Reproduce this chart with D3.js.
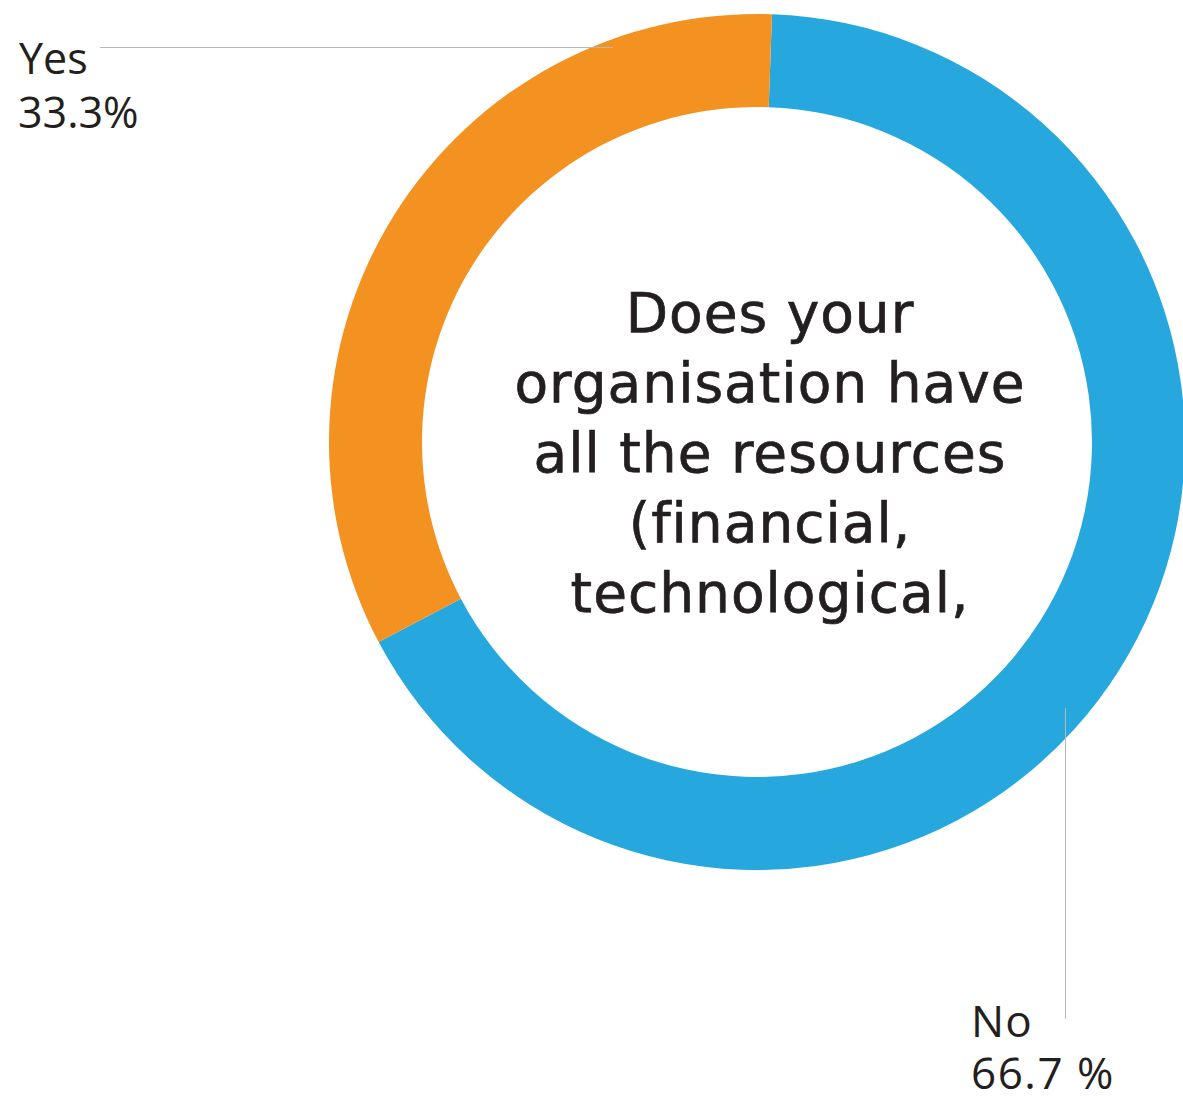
<!DOCTYPE html>
<html>
<head>
<meta charset="utf-8">
<script src="https://cdn.jsdelivr.net/npm/d3@7"></script>
<style>
  html, body { margin: 0; padding: 0; background: #ffffff; }
  svg { display: block; }
</style>
</head>
<body>
<svg id="chart" width="1183" height="1098"></svg>
<script>
// Survey answers
const categories = ["No", "Yes"];
const values = [66.7, 33.3];
const valueLabels = ["66.7 %", "33.3%"];
const colors = ["#26a8df", "#f39220"];
const questionLines = [
  "Does your",
  "organisation have",
  "all the resources",
  "(financial,",
  "technological,"
];

const svg = d3.select("#chart");
const cx = 757, cy = 442;
const outerR = 428, innerR = 335;

const pie = d3.pie().sort(null).startAngle(0.035).endAngle(0.035 + 2 * Math.PI);
const arc = d3.arc().innerRadius(innerR).outerRadius(outerR);
const slices = pie(values);

const g = svg.append("g").attr("transform", `translate(${cx},${cy})`);
g.selectAll("path.slice")
  .data(slices)
  .join("path")
  .attr("class", "slice")
  .attr("d", arc)
  .attr("fill", (d, i) => colors[i]);

// Question text in the hole
const qText = svg.append("text")
  .attr("text-anchor", "middle")
  .attr("font-family", "'DejaVu Sans', sans-serif")
  .attr("font-size", 55)
  .attr("letter-spacing", 1)
  .attr("fill", "#231f20")
  .attr("stroke", "#231f20")
  .attr("stroke-width", 0.7);
qText.selectAll("tspan")
  .data(questionLines)
  .join("tspan")
  .attr("x", 770)
  .attr("y", (d, i) => 332 + i * 70)
  .text(d => d);

// Leader lines and labels
const lineColor = "#b8b8b8";
const labelFont = "'Open Sans', sans-serif";

function label(x, y, txt, size, spacing) {
  svg.append("text")
    .attr("x", x).attr("y", y)
    .attr("font-family", labelFont)
    .attr("font-size", size)
    .attr("letter-spacing", spacing)
    .attr("fill", "#231f20")
    .text(txt);
}

// Yes
svg.append("line")
  .attr("x1", 100).attr("x2", 613)
  .attr("y1", 47.5).attr("y2", 47.5)
  .attr("stroke", lineColor).attr("stroke-width", 1);
label(19, 74, categories[1], 43, 0);
label(18, 128, valueLabels[1], 43, 0);

// No
svg.append("line")
  .attr("x1", 1065.5).attr("x2", 1065.5)
  .attr("y1", 708).attr("y2", 1019)
  .attr("stroke", lineColor).attr("stroke-width", 1);
label(971, 1037, categories[0], 44, 1);
label(971, 1089, valueLabels[0], 44, 1.5);
</script>
</body>
</html>
